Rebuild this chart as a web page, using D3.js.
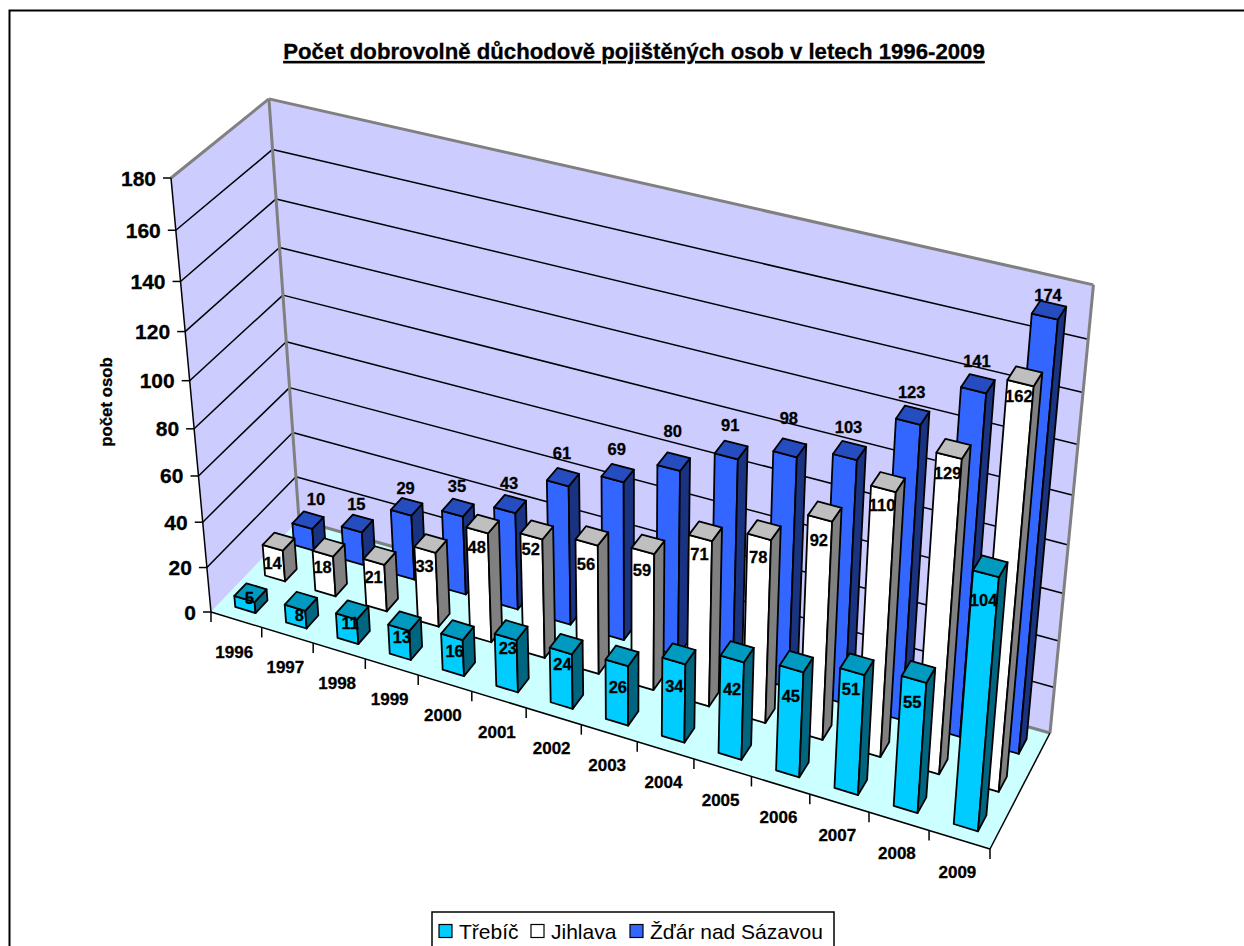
<!DOCTYPE html>
<html lang="en">
<head>
<meta charset="UTF-8">
<title>Počet dobrovolně důchodově pojištěných osob</title>
<script src="https://cdn.jsdelivr.net/npm/d3@7/dist/d3.min.js"></script>
<style>
  html, body { margin: 0; padding: 0; background: #fff; overflow: hidden; }
  svg { display: block; }
  text { font-family: "Liberation Sans", Arial, sans-serif; fill: #000; }
  .heavy { font-weight: bold; stroke: #000; stroke-width: 0.3; }
</style>
</head>
<body>
<svg id="chart" width="1244" height="946"></svg>
<script>
// data
var years = ['1996', '1997', '1998', '1999', '2000', '2001', '2002', '2003', '2004', '2005', '2006', '2007', '2008', '2009'];
var seriesNames = ['Třebíč', 'Jihlava', 'Žďár nad Sázavou'];
var trebic = [5, 8, 11, 13, 16, 23, 24, 26, 34, 42, 45, 51, 55, 104];
var jihlava = [14, 18, 21, 33, 48, 52, 56, 59, 71, 78, 92, 110, 129, 162];
var zdar = [10, 15, 29, 35, 43, 61, 69, 80, 91, 98, 103, 123, 141, 174];
var yTicks = [0, 20, 40, 60, 80, 100, 120, 140, 160, 180];

var seriesValues = [trebic, jihlava, zdar];
var faceColors = [
  { front: '#00ccff', top: '#0099bf', side: '#006680' },
  { front: '#ffffff', top: '#bfbfbf', side: '#808080' },
  { front: '#3366ff', top: '#264dbf', side: '#1a3380' }
];

// the labels are not placed quite regularly, vertical nudges per label
var labelNudge = [
  [0, 6, 4, 4, 7, 2, 2, 11, 9, 12, 7, -5, -2, 0],
  [1, 0, 2, 3, 3, -1, 8, 6, 3, 7, 9, 3, 4, 0],
  [0, 2, 2, -1, 0, -3, -3, -10, -4, -9, -2, -2, -2, 6]
];

// corners of the chart box on screen, the rest follows from perspective
var O = [211, 612], X = [990, 849], Y = [299, 520], Z = [171, 178], B = [1050, 733];
var gz = -0.087;

var det = (X[0] - B[0]) * (Y[1] - B[1]) - (Y[0] - B[0]) * (X[1] - B[1]);
var rx = B[0] - X[0] - Y[0] + O[0], ry = B[1] - X[1] - Y[1] + O[1];
var gx = (rx * (Y[1] - B[1]) - (Y[0] - B[0]) * ry) / det;
var gy = ((X[0] - B[0]) * ry - rx * (X[1] - B[1])) / det;

// u along years, d into the chart, v up
function project(u0, d, v) {
  var u = u0 + 0.03 * u0 * (1 - u0);  // small fix so the middle years line up
  var w = 1 + u * gx + d * gy + v * gz;
  var p = [0, 1].map(function (k) {
    return (O[k] + u * (X[k] * (1 + gx) - O[k]) + d * (Y[k] * (1 + gy) - O[k]) + v * (Z[k] * (1 + gz) - O[k])) / w;
  });
  p[1] += 11.5 * u * v;  // right side of the wall is a bit lower in the picture
  return p;
}

var u = d3.scaleBand().domain(years).range([0, 1]).paddingInner(0.6).paddingOuter(0.3);
var d = d3.scaleBand().domain(seriesNames).range([0, 1]).paddingInner(0.6).paddingOuter(0.3);
var v = d3.scaleLinear().domain([0, 180]).range([0, 1]);
var line = d3.line();

var svg = d3.select('#chart');

function face(parent, pts, fill) {
  return parent.append('path').attr('d', line(pts) + 'Z').attr('fill', fill);
}
function seg(parent, a, b, color, width) {
  return parent.append('line')
    .attr('x1', a[0]).attr('y1', a[1]).attr('x2', b[0]).attr('y2', b[1])
    .attr('stroke', color).attr('stroke-width', width);
}

// outer frame, runs off the right and bottom of the picture
svg.append('rect').attr('x', 9.5).attr('y', 10.5).attr('width', 1300).attr('height', 1000)
  .attr('fill', '#fff').attr('stroke', '#000').attr('stroke-width', 2);

// title
svg.append('text').attr('class', 'heavy').attr('x', 634).attr('y', 59).attr('text-anchor', 'middle')
  .attr('font-size', 22.2).attr('text-decoration', 'underline')
  .text('Počet dobrovolně důchodově pojištěných osob v letech 1996-2009');

// walls and floor
var walls = svg.append('g');
face(walls, [project(0, 0, 0), project(0, 1, 0), project(0, 1, 1), project(0, 0, 1)], '#ccccff');
face(walls, [project(0, 1, 0), project(1, 1, 0), project(1, 1, 1), project(0, 1, 1)], '#ccccff');
face(walls, [project(0, 0, 0), project(1, 0, 0), project(1, 1, 0), project(0, 1, 0)], '#ccffff');

// gridlines
yTicks.slice(1, -1).forEach(function (t) {
  var val = v(t);
  seg(walls, project(0, 0, val), project(0, 1, val), '#000', 1.5);
  seg(walls, project(0, 1, val), project(1, 1, val), '#000', 1.5);
});

// grey wall edges
var grey = '#808080';
seg(walls, project(0, 0, 1), project(0, 1, 1), grey, 3);
seg(walls, project(0, 1, 1), project(1, 1, 1), grey, 3);
seg(walls, project(1, 1, 1), project(1, 1, 0), grey, 3);
seg(walls, project(0, 1, 1), project(0, 1, 0), grey, 3);
seg(walls, project(0, 1, 0), project(1, 1, 0), grey, 3);

// axis lines
seg(walls, project(0, 0, 0), project(0, 0, 1), '#000', 1.5);
seg(walls, project(0, 0, 0), project(1, 0, 0), '#000', 1.5);
seg(walls, project(1, 0, 0), project(1, 1, 0), '#000', 1.5);

// y axis ticks and labels
yTicks.forEach(function (t) {
  var p = project(0, 0, v(t));
  seg(svg, [p[0] - 8, p[1]], p, '#000', 1.5);
  svg.append('text').attr('class', 'heavy').attr('x', p[0] - 15).attr('y', p[1] + 7.5).attr('text-anchor', 'end')
    .attr('font-size', 21).text(t);
});

// x axis ticks and labels
var step = u.step();
d3.range(years.length + 1).forEach(function (i) {
  var p = project(i * step, 0, 0);
  seg(svg, p, [p[0], p[1] + 10], '#000', 1.5);
});
years.forEach(function (y) {
  var p = project(u(y) + u.bandwidth() / 2, 0, 0);
  svg.append('text').attr('class', 'heavy').attr('x', p[0] - 2).attr('y', p[1] + 38).attr('text-anchor', 'middle')
    .attr('font-size', 17).text(y);
});

// axis title
svg.append('text').attr('class', 'heavy').attr('transform', 'translate(112,402) rotate(-90)').attr('text-anchor', 'middle')
  .attr('font-size', 16.8).text('počet osob');

// bars, back row first, left to right
var bars = svg.append('g');
d3.range(seriesNames.length).reverse().forEach(function (s) {
  var d0 = d(seriesNames[s]), d1 = d0 + d.bandwidth(), c = faceColors[s];
  years.forEach(function (y, i) {
    var u0 = u(y), u1 = u0 + u.bandwidth(), top = v(seriesValues[s][i]);
    var g = bars.append('g').attr('stroke', '#000').attr('stroke-width', 1.8).attr('stroke-linejoin', 'round');
    face(g, [project(u0, d0, 0), project(u1, d0, 0), project(u1, d0, top), project(u0, d0, top)], c.front);
    face(g, [project(u1, d0, 0), project(u1, d1, 0), project(u1, d1, top), project(u1, d0, top)], c.side);
    face(g, [project(u0, d0, top), project(u1, d0, top), project(u1, d1, top), project(u0, d1, top)], c.top);
  });
});

// data labels sit in front of everything
function labelOffset(s, uc) {
  if (s === 0) return [-1 - 6 * uc, 4 + 31 * uc];
  if (s === 1) return [-6, 20];
  return [-1, -21];
}
d3.range(seriesNames.length).forEach(function (s) {
  var dc = d(seriesNames[s]) + d.bandwidth() / 2;
  years.forEach(function (y, i) {
    var uc = u(y) + u.bandwidth() / 2;
    var p = project(uc, dc, v(seriesValues[s][i]));
    var off = labelOffset(s, uc);
    var dx = (s === 2 && i === 0) ? 9 : 0;  // the 10 sits further right
    svg.append('text').attr('class', 'heavy').attr('x', p[0] + off[0] + dx).attr('y', p[1] + off[1] + 6 + labelNudge[s][i])
      .attr('text-anchor', 'middle').attr('font-size', 16.5)
      .text(seriesValues[s][i]);
  });
});

// legend
var legend = svg.append('g');
legend.append('rect').attr('x', 432).attr('y', 912).attr('width', 402).attr('height', 50)
  .attr('fill', '#fff').attr('stroke', '#000').attr('stroke-width', 1.5);
var swatchX = [439, 531, 630];
seriesNames.forEach(function (name, s) {
  legend.append('rect').attr('x', swatchX[s]).attr('y', 924.5).attr('width', 13).attr('height', 13)
    .attr('fill', faceColors[s].front).attr('stroke', '#000').attr('stroke-width', 1.2);
  legend.append('text').attr('x', swatchX[s] + 20).attr('y', 939).attr('font-size', 21).text(name);
});
</script>
</body>
</html>
